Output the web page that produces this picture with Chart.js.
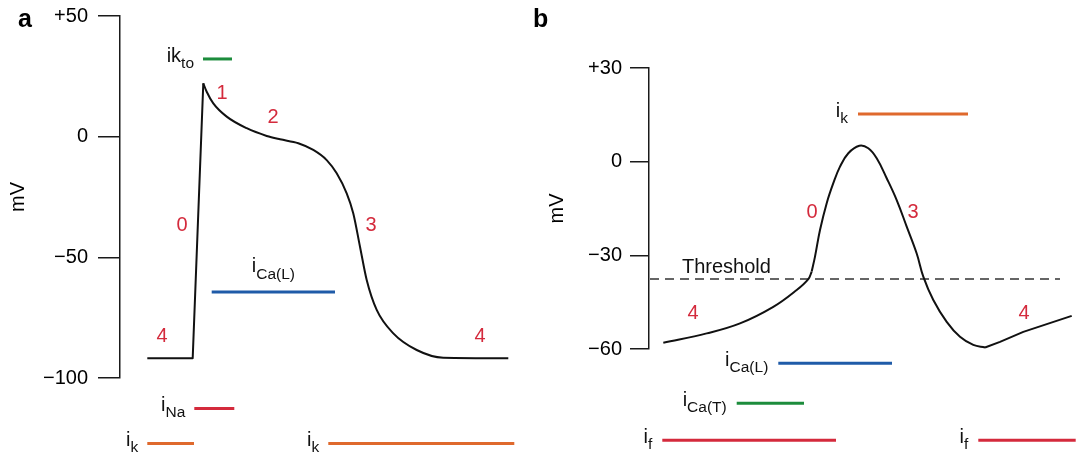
<!DOCTYPE html>
<html>
<head>
<meta charset="utf-8">
<script src="https://cdn.jsdelivr.net/npm/chart.js@4.4.0/dist/chart.umd.min.js"></script>
<style>
html,body{margin:0;padding:0;background:#fff;}
#wrap{position:relative;width:1078px;height:458px;overflow:hidden;}
#ca{position:absolute;left:0;top:0;}
#cb{position:absolute;left:520px;top:0;}
</style>
</head>
<body>
<div id="wrap">
<canvas id="ca" width="520" height="458"></canvas>
<canvas id="cb" width="558" height="458"></canvas>
</div>
<script>
// ---------------- DATA ----------------
// Panel a: ventricular action potential (time, arbitrary units; membrane potential, mV)
const aUpTime = [27.3, 72.7, 83.3];
const aUpMv = [-91.8, -91.8, 22.1];
const aRepolTime = [83.3, 86.7, 93.3, 106.7, 126.7, 146.7, 160, 178.3, 193.3, 206.7, 216.7, 226.7, 233.3, 240, 246.7, 256.7, 273.3, 296.7, 323.3, 388.3];
const aRepolMv = [22.1, 18.6, 13.8, 8.3, 3.5, 0.3, -1.1, -2.7, -5.5, -9.7, -15.2, -23.5, -31.8, -45.6, -59.4, -71.8, -81.5, -88.4, -91.6, -91.8];
const aTicks = [50, 0, -50, -100];
const aPhaseText = ['0', '1', '2', '3', '4', '4'];
const aPhaseTime = [62, 102, 153, 251, 42, 360];
const aPhaseMv = [-36.6, 18.1, 8.1, -36.6, -83.0, -83.0];
const aCurrentMain = ['ik', 'i', 'i', 'i', 'i'];
const aCurrentSub = ['to', 'Ca(L)', 'Na', 'k', 'k'];
const aCurrentStart = [83, 91.7, 74.3, 27.3, 208.3];
const aCurrentEnd = [112, 215, 114.3, 74, 394.3];
const aCurrentMv = [32.2, -64.4, -112.6, -127.1, -127.1];

// Panel b: pacemaker (SA node) action potential
const bPhase4Time = [14.3, 57.7, 91, 124.3, 147.7, 159.3, 162.7];
const bPhase4Mv = [-58.0, -55.0, -51.8, -46.5, -41.1, -37.6, -35.2];
const bSpikeTime = [162.7, 166, 171, 177.7, 184.3, 191, 199.3, 210.3, 219.3, 227.7, 237.7, 247.7, 257.7, 267.7, 274.3, 284.3, 297.7, 311, 324.3, 336];
const bSpikeMv = [-35.2, -30.4, -21.9, -13.3, -6.9, -1.6, 2.7, 5.1, 4.3, 1.1, -5.3, -12.3, -20.8, -29.4, -36.8, -44.3, -51.3, -56.1, -58.7, -59.5];
const bRiseTime = [336, 351, 374.3, 422.7];
const bRiseMv = [-59.5, -57.7, -54.5, -49.4];
const bThresholdMv = -37.6;
const bThresholdTime = [1, 411];
const bTicks = [30, 0, -30, -60];
const bPhaseText = ['0', '3', '4', '4'];
const bPhaseTime = [163, 264, 44, 375];
const bPhaseMv = [-16.4, -16.4, -48.5, -48.5];
const bCurrentMain = ['i', 'i', 'i', 'i', 'i'];
const bCurrentSub = ['k', 'Ca(L)', 'Ca(T)', 'f', 'f'];
const bCurrentStart = [209, 129.3, 87.7, 13.3, 329.3];
const bCurrentEnd = [319, 243, 155, 187, 426.7];
const bCurrentMv = [15.3, -64.6, -77.4, -89.2, -89.2];

// ---------------- STYLE ----------------
const FONT = '"Liberation Sans", Arial, Helvetica, sans-serif';
const RED = '#d42a3c', ORANGE = '#df692d', BLUE = '#1f5ba8', GREEN = '#1c8c3c';
const INK = '#111';
const aCurrentColor = [GREEN, BLUE, RED, ORANGE, ORANGE];
const aCurrentLabelMode = ['left', 'above', 'left', 'left', 'left'];
const bCurrentColor = [ORANGE, BLUE, GREEN, RED, RED];
const bCurrentLabelMode = ['left', 'left', 'left', 'left', 'left'];

function pts(xs, ys) { return xs.map((x, i) => ({ x: x, y: ys[i] })); }
function fmtTick(v) { return v > 0 ? '+' + v : (v < 0 ? '\u2212' + Math.abs(v) : '0'); }

// mode: 'straight' | 'monotone' | 'bezier'
function curveDs(xs, ys, mode) {
  return { data: pts(xs, ys), borderColor: INK, borderWidth: 2, pointRadius: 0, fill: false,
    tension: mode === 'bezier' ? 0.4 : 0,
    cubicInterpolationMode: mode === 'monotone' ? 'monotone' : 'default',
    clip: false, borderCapStyle: 'butt', borderJoinStyle: 'round' };
}
function currentDs(start, end, level, colors) {
  return start.map((s, i) => ({ data: [{ x: s, y: level[i] }, { x: end[i], y: level[i] }], borderColor: colors[i],
    borderWidth: 3, pointRadius: 0, fill: false, clip: false }));
}

function drawSubLabel(ctx, main, sub, x, barY, mode, gap) {
  const mainFont = '20px ' + FONT, subFont = '15.5px ' + FONT;
  ctx.font = mainFont; const wm = ctx.measureText(main).width;
  ctx.font = subFont; const ws = ctx.measureText(sub).width;
  let x0, yMain, ySub;
  if (mode === 'above') { x0 = x - (wm + ws) / 2; yMain = barY - 20; ySub = barY - 13; }
  else { x0 = x - gap - wm - ws; yMain = barY + 3; ySub = barY + 9; }
  ctx.textAlign = 'left'; ctx.textBaseline = 'alphabetic'; ctx.fillStyle = INK;
  ctx.font = mainFont; ctx.fillText(main, x0, yMain);
  ctx.font = subFont; ctx.fillText(sub, x0 + wm, ySub);
}

const annotPlugin = {
  id: 'annot',
  afterDatasetsDraw(chart, args, o) {
    const ctx = chart.ctx, xs = chart.scales.x, ys = chart.scales.y;
    ctx.save();
    ctx.fillStyle = RED; ctx.font = '20px ' + FONT; ctx.textAlign = 'center'; ctx.textBaseline = 'middle';
    o.phaseText.forEach((t, i) => ctx.fillText(t, xs.getPixelForValue(o.phaseTime[i]), ys.getPixelForValue(o.phaseMv[i])));
    o.curMain.forEach((m, i) => {
      const barY = ys.getPixelForValue(o.curMv[i]);
      const ax = o.curMode[i] === 'above'
        ? (xs.getPixelForValue(o.curStart[i]) + xs.getPixelForValue(o.curEnd[i])) / 2
        : xs.getPixelForValue(o.curStart[i]);
      drawSubLabel(ctx, m, o.curSub[i], ax, barY, o.curMode[i], o.gap);
    });
    if (o.threshold) {
      ctx.fillStyle = INK; ctx.font = '20px ' + FONT; ctx.textAlign = 'left'; ctx.textBaseline = 'alphabetic';
      ctx.fillText('Threshold', xs.getPixelForValue(33), ys.getPixelForValue(bThresholdMv) - 6);
    }
    ctx.fillStyle = '#000'; ctx.font = 'bold 25px ' + FONT; ctx.textAlign = 'left'; ctx.textBaseline = 'alphabetic';
    ctx.fillText(o.letter, o.letterX, 27);
    ctx.restore();
  }
};

function yScale(min, max, ticks, width, tickLen, pad, titlePad) {
  return {
    type: 'linear', min: min, max: max,
    afterFit(s) { s.width = width; s.paddingTop = 0; s.paddingBottom = 0; },
    afterBuildTicks(s) { s.ticks = ticks.map(v => ({ value: v })); },
    ticks: { callback: fmtTick, autoSkip: false, font: { size: 20, family: FONT }, color: '#000', padding: pad },
    grid: { drawOnChartArea: false, drawTicks: true, tickLength: tickLen, color: '#1a1a1a', lineWidth: 1.5 },
    border: { display: true, color: '#1a1a1a', width: 1.5 },
    title: { display: true, text: 'mV', font: { size: 20, family: FONT }, color: '#000', padding: { top: titlePad, bottom: 0 } }
  };
}

// Panel a
new Chart(document.getElementById('ca'), {
  type: 'line',
  data: { datasets: [curveDs(aUpTime, aUpMv, 'straight'), curveDs(aRepolTime, aRepolMv, 'monotone')]
    .concat(currentDs(aCurrentStart, aCurrentEnd, aCurrentMv, aCurrentColor)) },
  options: {
    responsive: false, animation: false,
    layout: { padding: { top: 16, bottom: 80, left: 0, right: 0 } },
    plugins: { legend: { display: false }, tooltip: { enabled: false },
      annot: { phaseText: aPhaseText, phaseTime: aPhaseTime, phaseMv: aPhaseMv,
        curMain: aCurrentMain, curSub: aCurrentSub, curStart: aCurrentStart, curEnd: aCurrentEnd, curMv: aCurrentMv,
        curMode: aCurrentLabelMode, gap: 9, letter: 'a', letterX: 18, threshold: false } },
    scales: {
      x: { type: 'linear', min: 0, max: 400, display: false },
      y: yScale(-100, 50, aTicks, 120, 22, 10, 6)
    }
  },
  plugins: [annotPlugin]
});

// Panel b
new Chart(document.getElementById('cb'), {
  type: 'line',
  data: { datasets: [
      curveDs(bPhase4Time, bPhase4Mv, 'bezier'), curveDs(bSpikeTime, bSpikeMv, 'bezier'), curveDs(bRiseTime, bRiseMv, 'straight'),
      { data: pts(bThresholdTime, [bThresholdMv, bThresholdMv]), borderColor: '#333', borderWidth: 1.5, borderDash: [9, 6], pointRadius: 0, fill: false, clip: false }
    ].concat(currentDs(bCurrentStart, bCurrentEnd, bCurrentMv, bCurrentColor)) },
  options: {
    responsive: false, animation: false,
    layout: { padding: { top: 68, bottom: 109, left: 0, right: 0 } },
    plugins: { legend: { display: false }, tooltip: { enabled: false },
      annot: { phaseText: bPhaseText, phaseTime: bPhaseTime, phaseMv: bPhaseMv,
        curMain: bCurrentMain, curSub: bCurrentSub, curStart: bCurrentStart, curEnd: bCurrentEnd, curMv: bCurrentMv,
        curMode: bCurrentLabelMode, gap: 10, letter: 'b', letterX: 13, threshold: true } },
    scales: {
      x: { type: 'linear', min: 0, max: 429, display: false },
      y: yScale(-60, 30, bTicks, 129, 19, 8, 25)
    }
  },
  plugins: [annotPlugin]
});
</script>
</body>
</html>
